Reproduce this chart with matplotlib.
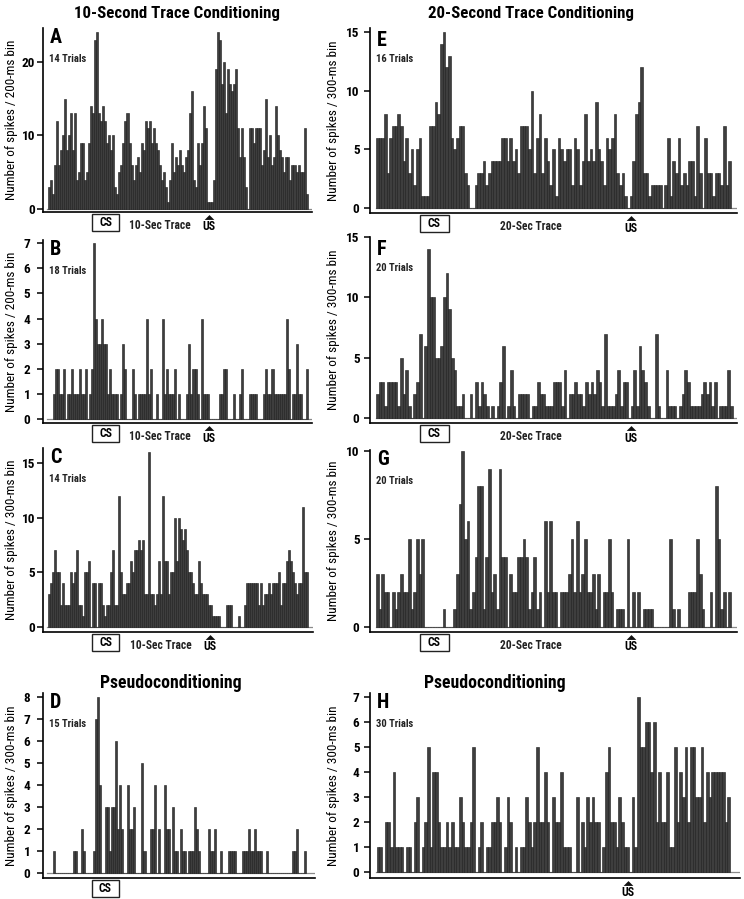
import numpy as np
import matplotlib
matplotlib.use('Agg')
import matplotlib.pyplot as plt
from matplotlib.patches import Rectangle
from matplotlib import font_manager

# pick a condensed sans if one is installed, otherwise plain Liberation Sans a bit smaller
installed = {f.name for f in font_manager.fontManager.ttflist}
narrow = [n for n in ['Liberation Sans Narrow', 'Roboto Condensed', 'Arial Narrow',
                      'Open Sans Condensed'] if n in installed]
if narrow:
    plt.rcParams['font.family'] = [narrow[0], 'Liberation Sans', 'DejaVu Sans']
    SCALE = 1.0
else:
    plt.rcParams['font.family'] = ['Liberation Sans', 'DejaVu Sans']
    SCALE = 0.8


def fs(size):
    return size * SCALE


# spike counts per bin
a_counts = [3, 4, 2, 6, 12, 6, 8, 10, 15, 8, 10, 13, 8, 13, 4, 5, 9, 9, 4, 5, 9, 14, 13, 23, 24,
            13, 12, 14, 12, 9, 10, 8, 10, 3, 2, 5, 6, 9, 12, 13, 9, 6, 4, 6, 7, 5, 9, 8, 12, 11,
            12, 9, 11, 9, 8, 6, 4, 5, 3, 1, 4, 9, 5, 7, 6, 8, 6, 5, 7, 8, 13, 16, 4, 3, 9, 6, 9,
            14, 11, 1, 1, 1, 4, 19,
            24, 23, 17, 20, 13, 19, 17, 16, 17, 19, 11, 7, 11, 7, 3, 0, 11, 11, 9, 11, 11, 11, 6,
            8, 15, 7, 10, 6, 7, 14, 10, 8, 7, 5, 7, 7, 4, 6, 6, 5, 6, 5, 5, 11, 2]
b_counts = [1, 2, 2, 1, 1, 2, 0, 1, 1, 2, 1, 1, 1, 2, 1, 1, 2, 0, 1, 2,
            7, 4, 3, 3, 4, 3, 3, 1, 2, 1, 1, 1, 0, 1, 3, 2, 0, 0, 0, 2,
            1, 0, 1, 1, 1, 1, 4, 1, 2, 0, 0, 1, 0, 0, 4, 1, 2, 1, 1, 1,
            2, 0, 1, 0, 0, 0, 1, 3, 1, 2, 2, 1, 0, 4, 1, 1, 1, 0, 0, 0,
            0, 0, 1, 1, 2, 2, 0, 0, 0, 1, 0, 0, 1, 2, 0, 0, 0, 1, 1, 1,
            1, 0, 0, 0, 1, 2, 1, 1, 2, 1, 1, 1, 1, 1, 1, 4, 2, 0, 1, 1,
            3, 1, 1, 0, 0, 2]
c_counts = [3, 4, 5, 7, 5, 5, 2, 4, 2, 2, 2, 5, 4, 5, 7, 2, 2, 1, 5, 5,
            6, 0, 4, 4, 0, 4, 4, 2, 1, 2, 2, 5, 7, 2, 2, 12, 5, 3, 3, 4,
            4, 6, 5, 7, 7, 8, 7, 8, 3, 3, 16, 3, 3, 2, 3, 6, 3, 12, 6, 6,
            3, 5, 5, 10, 6, 10, 9, 8, 9, 7, 5, 5, 4, 3, 3, 6, 4, 3, 3, 3,
            2, 2, 1, 1, 1, 1, 0, 0, 0, 2, 2, 2, 0, 0, 0, 1, 0, 0, 2, 4,
            4, 4, 4, 4, 4, 2, 4, 2, 3, 3, 4, 3, 4, 4, 4, 5, 2, 4, 4, 6,
            7, 6, 5, 4, 3, 4, 4, 11, 5, 5]
d_counts = [1, 0, 0, 0, 0, 0, 0, 0, 0, 0, 1, 1, 0, 0, 2, 1, 0, 0, 0, 0,
            1, 7, 8, 4, 0, 0, 3, 3, 1, 3, 3, 6, 2, 4, 2, 0, 0, 4, 2, 2,
            3, 0, 0, 0, 5, 1, 0, 0, 2, 2, 4, 0, 2, 0, 0, 4, 2, 2, 0, 3,
            1, 1, 0, 2, 1, 1, 0, 1, 1, 1, 3, 2, 1, 0, 0, 0, 0, 2, 1, 1,
            2, 0, 0, 1, 0, 0, 0, 1, 1, 1, 1, 0, 0, 0, 1, 1, 1, 2, 1, 1,
            2, 1, 1, 1, 0, 0, 1, 0, 0, 0, 0, 0, 0, 0, 0, 0, 0, 0, 0, 1,
            1, 2, 0, 0, 0, 1]
e_counts = [6, 6, 6, 8, 3, 6, 7, 7, 8, 7, 4, 6, 3, 5, 2, 5, 6, 1, 1, 1,
            7, 7, 9, 8, 14, 15, 12, 13, 6, 5, 6, 7, 7, 3, 2, 0, 0, 2, 3, 3,
            4, 2, 3, 4, 4, 4, 4, 6, 6, 4, 6, 4, 5, 3, 7, 7, 7, 5, 10, 3,
            6, 8, 3, 6, 4, 2, 5, 1, 6, 5, 4, 5, 5, 2, 6, 5, 2, 4, 8, 4,
            5, 4, 9, 5, 4, 2, 6, 5, 6, 8, 3, 2, 3, 1, 0, 1, 4, 8, 9, 12,
            3, 3, 1, 2, 2, 2, 2, 0, 2, 6, 1, 4, 3, 6, 2, 3, 2, 4, 4, 1,
            7, 3, 0, 6, 3, 3, 1, 3, 3, 2, 7, 2, 4]
f_counts = [2, 3, 3, 1, 3, 3, 3, 3, 1, 5, 2, 4, 1, 0, 2, 3, 7, 0, 6, 14,
            10, 10, 5, 5, 6, 10, 12, 9, 5, 4, 1, 1, 2, 0, 0, 2, 0, 3, 1, 3,
            2, 1, 0, 1, 0, 1, 3, 6, 0, 1, 4, 1, 0, 2, 2, 2, 2, 0, 1, 1,
            3, 2, 2, 1, 1, 1, 3, 3, 3, 1, 4, 0, 2, 2, 3, 2, 2, 1, 3, 2,
            3, 2, 4, 3, 1, 7, 1, 1, 1, 2, 4, 1, 3, 3, 0, 1, 4, 1, 6, 4,
            3, 1, 0, 0, 7, 1, 0, 0, 4, 1, 1, 1, 0, 1, 2, 4, 3, 1, 1, 1,
            1, 2, 3, 2, 3, 1, 3, 0, 1, 1, 1, 4, 1]
g_counts = [3, 1, 3, 2, 2, 0, 2, 1, 2, 3, 2, 2, 5, 1, 2, 5, 3, 5, 0, 0,
            0, 0, 0, 0, 0, 1, 0, 0, 0, 1, 3, 7, 10, 5, 6, 1, 2, 4, 8, 8,
            1, 4, 9, 2, 3, 1, 9, 4, 4, 0, 3, 2, 2, 4, 4, 5, 4, 1, 2, 4,
            1, 2, 0, 6, 2, 6, 2, 2, 0, 2, 2, 2, 3, 5, 2, 6, 2, 3, 5, 2,
            2, 3, 1, 3, 0, 2, 2, 5, 2, 0, 1, 1, 1, 0, 5, 0, 2, 0, 2, 0,
            1, 1, 1, 1, 0, 0, 0, 0, 0, 0, 5, 1, 0, 1, 0, 0, 0, 2, 2, 2,
            5, 3, 1, 0, 0, 2, 0, 8, 5, 1, 2, 0, 2]
h_counts = [1, 1, 0, 2, 2, 1, 4, 1, 1, 1, 0, 1, 1, 0, 2, 3, 0, 1, 2, 5,
            1, 4, 4, 2, 1, 1, 2, 1, 2, 1, 1, 3, 2, 1, 1, 2, 5, 0, 1, 2,
            0, 1, 1, 2, 2, 3, 2, 0, 1, 3, 2, 0, 1, 0, 1, 1, 3, 2, 1, 2,
            5, 2, 2, 4, 2, 0, 3, 2, 2, 4, 1, 1, 1, 0, 0, 3, 0, 2, 1, 3,
            2, 3, 2, 2, 0, 1, 4, 5, 2, 2, 1, 3, 2, 1, 1, 0, 3, 1, 7, 5,
            5, 6, 6, 4, 6, 2, 4, 2, 2, 4, 1, 1, 5, 2, 4, 3, 5, 2, 5, 5,
            3, 3, 5, 2, 4, 3, 4, 4, 4, 4, 4, 2, 3]

letters = ['A', 'B', 'C', 'D', 'E', 'F', 'G', 'H']
trials = ['14 Trials', '18 Trials', '14 Trials', '15 Trials',
          '16 Trials', '20 Trials', '20 Trials', '30 Trials']
ylabels = ['Number of spikes / 200-ms bin', 'Number of spikes / 200-ms bin',
           'Number of spikes / 300-ms bin', 'Number of spikes / 300-ms bin'] + \
          ['Number of spikes / 300-ms bin'] * 4
yticks = [[0, 10, 20], list(range(8)), [0, 5, 10, 15], list(range(9)),
          [0, 5, 10, 15], [0, 5, 10, 15], [0, 5, 10], list(range(8))]
all_counts = [a_counts, b_counts, c_counts, d_counts, e_counts, f_counts, g_counts, h_counts]

W, H = 744, 899
fig = plt.figure(figsize=(W / 100, H / 100), dpi=100)


def fx(px):
    return px / W


def fy(py):
    return 1 - py / H


# layout in pixels: left, top, right, bottom of each axes, y limits, x padding
boxes = [(43, 28, 312, 212), (43, 240, 312, 423), (43, 448, 313, 632), (43, 693, 315, 878),
         (370, 28, 737, 213), (370, 237, 737, 423), (370, 450, 737, 632), (370, 693, 740, 878)]
ylims = [(-0.41, 24.6), (-0.16, 7.13), (-0.46, 16.38), (-0.23, 8.18),
         (-0.43, 15.35), (-0.41, 15.0), (-0.28, 10.06), (-0.24, 7.16)]
xpads = [(2.5, 2.2), (4.8, 2.0), (2.6, 2.5), (5.1, 4.5),
         (2.2, 2.2), (2.2, 1.6), (2.2, 2.3), (2.5, 3.8)]
tick_pads = [1.5, 5, 1.5, 5, 3.5, 3.5, 3.5, 3.5]
letter_drop = [15, 15, 15, 15, 18, 18, 15, 15]

axes = []
for i in range(8):
    l, t, r, b = boxes[i]
    ax = fig.add_axes([fx(l), fy(b), (r - l) / W, (b - t) / H])
    vals = all_counts[i]
    ax.bar(np.arange(len(vals)), vals, width=1.0, align='edge',
           color='#3e3e3e', edgecolor='#1a1a1a', linewidth=0.4)
    ax.axhline(0, xmin=0.015, xmax=1, color='#8a8a8a', linewidth=0.9, zorder=0)
    ax.set_xlim(-xpads[i][0], len(vals) + xpads[i][1])
    ax.set_ylim(*ylims[i])
    ax.set_yticks(yticks[i])
    ax.set_xticks([])
    ax.spines['top'].set_visible(False)
    ax.spines['right'].set_visible(False)
    ax.spines['left'].set_linewidth(1.2)
    ax.spines['bottom'].set_linewidth(1.2)
    ax.tick_params(axis='y', length=4, width=1.1, pad=tick_pads[i], labelsize=9.5)
    for lab in ax.get_yticklabels():
        lab.set_fontweight('bold')
    axes.append(ax)

    # panel letter and trial count
    fig.text(fx(l + 7), fy(t + letter_drop[i]), letters[i],
             fontsize=14.5, fontweight='bold', va='baseline', ha='left')
    fig.text(fx(l + 6), fy(t + 34), trials[i], fontsize=fs(7.6), fontweight='bold',
             va='baseline', ha='left', color='#222222')

    # y label
    lx = 12 if i < 4 else 333
    fig.text(fx(lx), fy((t + b) / 2), ylabels[i], rotation=90, fontsize=fs(9.5),
             ha='center', va='center')


def stim_marks(ax, cs=None, trace=None, trace_x=None, us_x=None):
    h_px = ax.get_position().height * H

    def dy(px):
        return -px / h_px

    if cs is not None:
        x0, x1 = cs
        ax.add_patch(Rectangle((x0, dy(19)), x1 - x0, dy(2) - dy(19), transform=ax.transAxes,
                               clip_on=False, facecolor='white', edgecolor='#222222',
                               linewidth=1.0))
        ax.text((x0 + x1) / 2, dy(10.5), 'CS', transform=ax.transAxes, ha='center',
                va='center', fontsize=8.5, fontweight='bold')
    if trace is not None:
        ax.text(trace_x, dy(13.5), trace, transform=ax.transAxes, ha='center',
                va='center', fontsize=fs(8.3), fontweight='bold', color='#222222')
    if us_x is not None:
        ax.plot([us_x], [dy(4.5)], transform=ax.transAxes, clip_on=False,
                marker=[(-1, -0.5), (1, -0.5), (0, 0.5), (-1, -0.5)], markersize=7,
                markeredgewidth=0, color='#111111', linestyle='none')
        ax.text(us_x, dy(15), 'US', transform=ax.transAxes, ha='center',
                va='center', fontsize=8.5, fontweight='bold')


for i in range(3):
    stim_marks(axes[i], cs=(0.182, 0.283), trace='10-Sec Trace', trace_x=0.435, us_x=0.617)
stim_marks(axes[3], cs=(0.180, 0.279))
for i in range(4, 7):
    stim_marks(axes[i], cs=(0.136, 0.215), trace='20-Sec Trace', trace_x=0.439, us_x=0.711)
stim_marks(axes[7], us_x=0.697)

# titles
fig.text(fx(176.5), fy(18), '10-Second Trace Conditioning', fontsize=fs(12.2),
         fontweight='bold', ha='center', va='baseline')
fig.text(fx(530.5), fy(18), '20-Second Trace Conditioning', fontsize=fs(12.2),
         fontweight='bold', ha='center', va='baseline')
fig.text(fx(171), fy(688), 'Pseudoconditioning', fontsize=fs(12.8),
         fontweight='bold', ha='center', va='baseline')
fig.text(fx(495), fy(688), 'Pseudoconditioning', fontsize=fs(12.8),
         fontweight='bold', ha='center', va='baseline')

fig.savefig('out.png', dpi=100)
